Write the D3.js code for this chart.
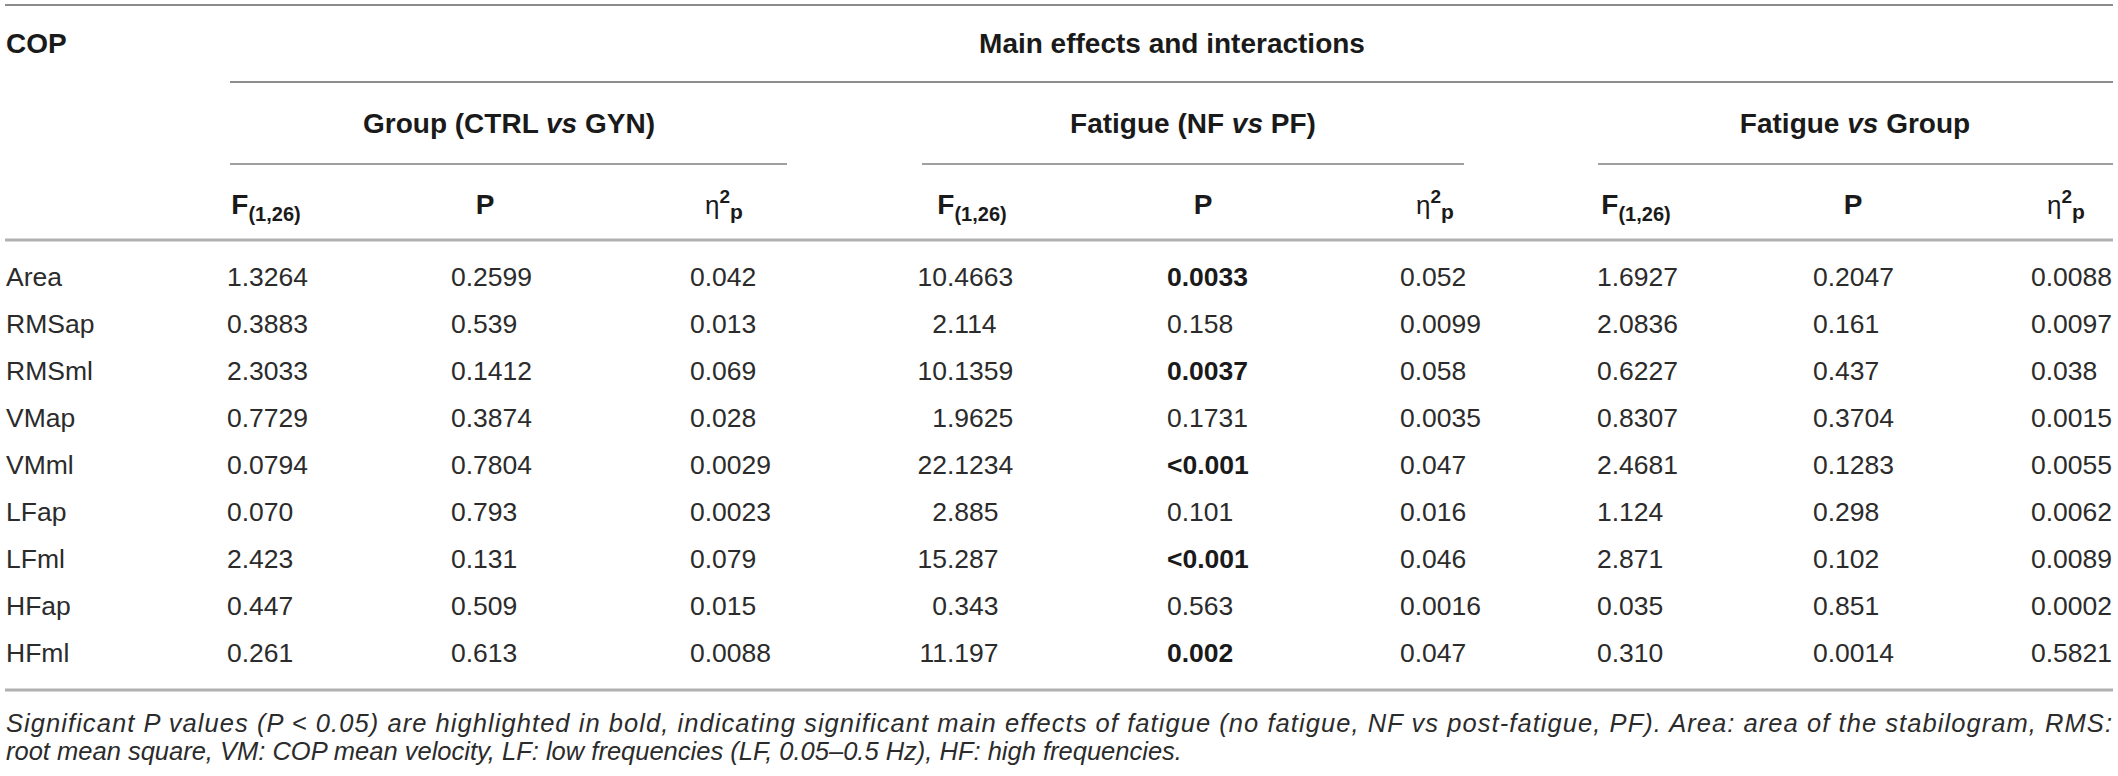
<!DOCTYPE html>
<html>
<head>
<meta charset="utf-8">
<script src="https://cdn.jsdelivr.net/npm/d3@7"></script>
<style>
  body { margin: 0; background: #fff; }
  svg text { font-family: "Liberation Sans", Arial, Helvetica, sans-serif; }
</style>
</head>
<body>
<div id="table"></div>
<script>
const rowNames = ["Area", "RMSap", "RMSml", "VMap", "VMml", "LFap", "LFml", "HFap", "HFml"];

const groupF   = ["1.3264", "0.3883", "2.3033", "0.7729", "0.0794", "0.070", "2.423", "0.447", "0.261"];
const groupP   = ["0.2599", "0.539", "0.1412", "0.3874", "0.7804", "0.793", "0.131", "0.509", "0.613"];
const groupEta = ["0.042", "0.013", "0.069", "0.028", "0.0029", "0.0023", "0.079", "0.015", "0.0088"];

const fatigueF   = ["10.4663", "2.114", "10.1359", "1.9625", "22.1234", "2.885", "15.287", "0.343", "11.197"];
const fatigueP   = ["0.0033", "0.158", "0.0037", "0.1731", "<0.001", "0.101", "<0.001", "0.563", "0.002"];
const fatigueEta = ["0.052", "0.0099", "0.058", "0.0035", "0.047", "0.016", "0.046", "0.0016", "0.047"];
const fatigueBold = [true, false, true, false, true, false, true, false, true];

const interF   = ["1.6927", "2.0836", "0.6227", "0.8307", "2.4681", "1.124", "2.871", "0.035", "0.310"];
const interP   = ["0.2047", "0.161", "0.437", "0.3704", "0.1283", "0.298", "0.102", "0.851", "0.0014"];
const interEta = ["0.0088", "0.0097", "0.038", "0.0015", "0.0055", "0.0062", "0.0089", "0.0002", "0.5821"];

const effectGroups = ["Group (CTRL vs GYN)", "Fatigue (NF vs PF)", "Fatigue vs Group"];
const statHeaders = ["F", "P", "eta", "F", "P", "eta", "F", "P", "eta"];
const captionLines = [
    "Significant P values (P < 0.05) are highlighted in bold, indicating significant main effects of fatigue (no fatigue, NF vs post-fatigue, PF). Area: area of the stabilogram, RMS:",
    "root mean square, VM: COP mean velocity, LF: low frequencies (LF, 0.05\u20130.5 Hz), HF: high frequencies."
];

const width = 2118, height = 776;
const fsBody = 26.5;
const fsHead = 28;
const textColor = "#2b2b2b";
const headColor = "#1a1a1a";

const svg = d3.select("#table")
    .append("svg")
    .attr("width", width)
    .attr("height", height);

const colKeys = ["gF", "gP", "gE", "fF", "fP", "fE", "iF", "iP", "iE"];
// left edge of values (fF is aligned on the decimal point)
const colX = d3.scaleOrdinal()
    .domain(colKeys)
    .range([227, 451, 690, 947, 1167, 1400, 1597, 1813, 2031]);
// header centre over each column
const headX = d3.scaleOrdinal()
    .domain(colKeys)
    .range([266, 485, 724, 972, 1203, 1435, 1636, 1853, 2066]);

const columns = [
    {key: "gF", values: groupF},
    {key: "gP", values: groupP},
    {key: "gE", values: groupEta},
    {key: "fF", values: fatigueF, decimal: true},
    {key: "fP", values: fatigueP, bold: fatigueBold},
    {key: "fE", values: fatigueEta},
    {key: "iF", values: interF},
    {key: "iP", values: interP},
    {key: "iE", values: interEta}
];

const y = d3.scalePoint()
    .domain(rowNames)
    .range([276, 652]);

function hline(x1, x2, yy, w, c) {
    svg.append("line")
        .attr("x1", x1).attr("x2", x2)
        .attr("y1", yy).attr("y2", yy)
        .attr("stroke", c)
        .attr("stroke-width", w);
}

// rules
hline(5, 2113, 5, 2, "#8c8c8c");
hline(230, 2113, 82, 2, "#8c8c8c");
hline(230, 787, 164, 2, "#a0a0a0");
hline(922, 1464, 164, 2, "#a0a0a0");
hline(1598, 2113, 164, 2, "#a0a0a0");
hline(5, 2113, 240, 3, "#b0b0b0");
hline(5, 2113, 690, 3, "#b0b0b0");

// top header
svg.append("text")
    .attr("x", 6).attr("y", 53)
    .attr("font-size", fsHead).attr("font-weight", "bold")
    .attr("fill", headColor)
    .text("COP");

svg.append("text")
    .attr("x", 1172).attr("y", 53)
    .attr("text-anchor", "middle")
    .attr("font-size", fsHead).attr("font-weight", "bold")
    .attr("fill", headColor)
    .text("Main effects and interactions");

// effect group headers, "vs" in italics
const groupCenters = d3.scaleOrdinal().domain(effectGroups).range([509, 1193, 1855]);
effectGroups.forEach(label => {
    const parts = label.split(" vs ");
    const t = svg.append("text")
        .attr("x", groupCenters(label)).attr("y", 133)
        .attr("text-anchor", "middle")
        .attr("font-size", fsHead).attr("font-weight", "bold")
        .attr("fill", headColor);
    t.append("tspan").text(parts[0] + " ");
    t.append("tspan").attr("font-style", "italic").text("vs");
    t.append("tspan").text(" " + parts[1]);
});

// column headers
colKeys.forEach((k, i) => {
    const t = svg.append("text")
        .attr("x", headX(k)).attr("y", 214)
        .attr("text-anchor", "middle")
        .attr("font-size", fsHead)
        .attr("fill", headColor);
    const type = statHeaders[i];
    if (type === "F") {
        t.append("tspan").attr("font-weight", "bold").text("F");
        t.append("tspan").attr("font-weight", "bold")
            .attr("font-size", 20).attr("dy", 7)
            .text("(1,26)");
    } else if (type === "P") {
        t.append("tspan").attr("font-weight", "bold").text("P");
    } else {
        t.append("tspan").attr("font-size", 26).text("\u03b7");
        t.append("tspan").attr("font-weight", "bold")
            .attr("font-size", 19).attr("dy", -11)
            .text("2");
        t.append("tspan").attr("font-weight", "bold")
            .attr("font-size", 21).attr("dy", 16)
            .text("p");
    }
});

// body rows
const body = svg.append("g").attr("class", "body");

body.selectAll(".row-name")
    .data(rowNames)
    .join("text")
    .attr("class", "row-name")
    .attr("x", 6)
    .attr("y", d => y(d))
    .attr("dy", "0.36em")
    .attr("font-size", fsBody)
    .attr("fill", textColor)
    .text(d => d);

columns.forEach(col => {
    const cells = col.values.map((v, i) => ({v, row: rowNames[i], bold: col.bold ? col.bold[i] : false}));
    if (col.decimal) {
        // integer part ends on the decimal point, fraction starts there
        body.selectAll(".int-" + col.key)
            .data(cells)
            .join("text")
            .attr("class", "int-" + col.key)
            .attr("x", colX(col.key))
            .attr("y", d => y(d.row))
            .attr("dy", "0.36em")
            .attr("text-anchor", "end")
            .attr("font-size", fsBody)
            .attr("fill", textColor)
            .text(d => d.v.split(".")[0]);
        body.selectAll(".frac-" + col.key)
            .data(cells)
            .join("text")
            .attr("class", "frac-" + col.key)
            .attr("x", colX(col.key))
            .attr("y", d => y(d.row))
            .attr("dy", "0.36em")
            .attr("font-size", fsBody)
            .attr("fill", textColor)
            .text(d => "." + d.v.split(".")[1]);
        return;
    }
    body.selectAll(".cell-" + col.key)
        .data(cells)
        .join("text")
        .attr("class", "cell-" + col.key)
        .attr("x", colX(col.key))
        .attr("y", d => y(d.row))
        .attr("dy", "0.36em")
        .attr("font-size", fsBody)
        .attr("font-weight", d => d.bold ? "bold" : "normal")
        .attr("fill", d => d.bold ? headColor : textColor)
        .text(d => d.v);
});

// caption
svg.selectAll(".caption")
    .data(captionLines)
    .join("text")
    .attr("class", "caption")
    .attr("x", 6)
    .attr("y", (d, i) => 732 + i * 28)
    .attr("font-size", 25.5)
    .attr("font-style", "italic")
    .attr("fill", textColor)
    .text(d => d)
    .each(function(d, i) {
        if (i === 0) {
            const w = this.getComputedTextLength();
            if (Math.abs(w - 2106) < 250) d3.select(this).attr("textLength", 2106).attr("lengthAdjust", "spacing");
        }
    });
</script>
</body>
</html>
